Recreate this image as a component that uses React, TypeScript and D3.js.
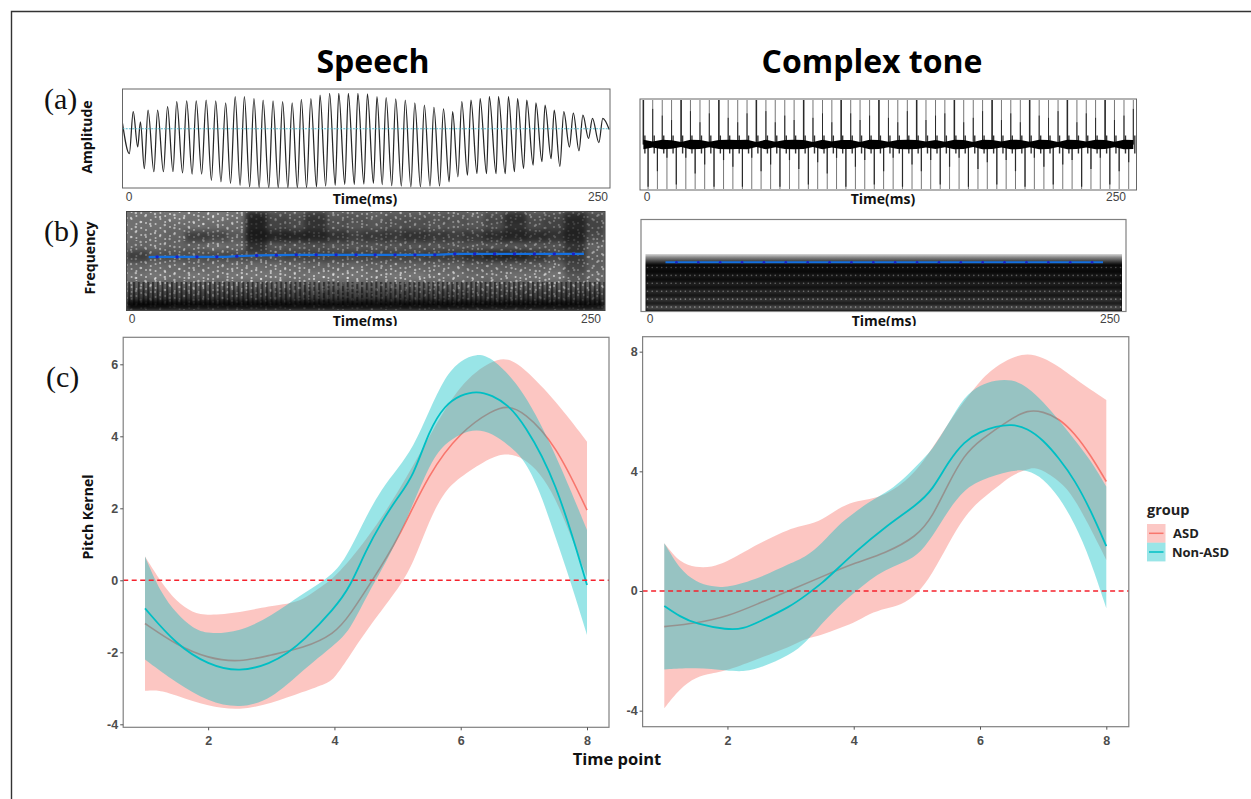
import React, { useEffect, useRef } from 'react';
import * as d3 from 'd3';

type Pt = [number, number];

// ---- pitch kernels, speech panel
const speechAsdUpper: Pt[] = [[1, 0.66], [1.25, -0.04], [1.5, -0.6], [1.75, -0.9], [2, -0.98], [2.5, -0.9], [3, -0.7], [3.25, -0.66], [3.5, -0.55], [3.75, -0.22], [4, 0.05], [4.5, 1.1], [5, 2.4], [5.5, 4], [6, 5.5], [6.5, 6.12], [6.75, 6.18], [7, 5.9], [7.5, 5], [8, 3.85]];
const speechAsdMean: Pt[] = [[1, -1.2], [1.5, -1.8], [2, -2.17], [2.5, -2.28], [3, -2.07], [3.5, -1.89], [4, -1.5], [4.25, -0.95], [4.6, 0], [5, 1.1], [5.5, 3], [6, 4.13], [6.5, 4.73], [6.75, 4.85], [7, 4.68], [7.5, 3.8], [8, 1.95]];
const speechAsdLower: Pt[] = [[1, -3.07], [1.25, -3.05], [1.5, -3.2], [2, -3.5], [2.5, -3.62], [3, -3.42], [3.5, -3.1], [3.9, -2.85], [4, -2.72], [4.25, -2.08], [4.5, -1.4], [5, -0.27], [5.25, 0.47], [5.5, 1.67], [5.75, 2.5], [6, 2.88], [6.5, 3.45], [6.75, 3.53], [7, 3.39], [7.25, 3.0], [7.5, 2.3], [7.75, 1.2], [8, 0.1]];
const speechCtrlUpper: Pt[] = [[1, 0.66], [1.25, -0.36], [1.5, -0.92], [1.75, -1.33], [2, -1.5], [2.5, -1.43], [3, -1], [3.5, -0.36], [4, 0.15], [4.25, 0.85], [4.5, 1.77], [4.75, 2.55], [5, 3.1], [5.25, 3.7], [5.5, 4.7], [5.75, 5.66], [6, 6.12], [6.25, 6.3], [6.5, 6.2], [7, 5.29], [7.5, 3.53], [8, 1.4]];
const speechCtrlMean: Pt[] = [[1, -0.78], [1.5, -1.8], [2, -2.35], [2.5, -2.56], [3, -2.3], [3.25, -2.03], [3.5, -1.7], [4, -0.78], [4.25, -0.18], [4.5, 0.84], [4.75, 1.63], [5, 2.3], [5.25, 2.88], [5.5, 4.17], [5.75, 4.87], [6, 5.15], [6.25, 5.26], [6.5, 5.14], [6.75, 4.87], [7, 4.36], [7.5, 2.83], [8, -0.13]];
const speechCtrlLower: Pt[] = [[1, -2.2], [1.5, -2.85], [2, -3.37], [2.5, -3.56], [3, -3.32], [3.5, -2.49], [4, -1.8], [4.25, -1.38], [4.5, -0.45], [5, 1.03], [5.5, 3.25], [5.75, 3.8], [6, 4.08], [6.25, 4.2], [6.5, 4.08], [6.75, 3.76], [7, 3.39], [7.25, 2.5], [7.5, 1.2], [7.75, -0.08], [8, -1.52]];

// ---- pitch kernels, complex tone panel
const toneAsdUpper: Pt[] = [[1, 1.6], [1.25, 0.93], [1.5, 0.79], [1.75, 0.79], [2, 0.98], [2.5, 1.6], [3, 2.1], [3.25, 2.2], [3.5, 2.37], [3.75, 2.76], [4, 2.99], [4.25, 3.07], [4.5, 3.2], [5, 3.9], [5.5, 5.66], [6, 7.05], [6.25, 7.5], [6.5, 7.8], [6.75, 7.96], [7, 7.8], [7.25, 7.5], [7.5, 7.1], [8, 6.38]];
const toneAsdMean: Pt[] = [[1, -1.19], [1.5, -1.08], [2, -0.86], [2.5, -0.41], [3, 0.03], [3.5, 0.48], [4, 0.93], [4.5, 1.26], [5, 1.82], [5.25, 2.49], [5.5, 3.6], [5.75, 4.55], [6, 5.05], [6.5, 5.77], [6.75, 6.05], [7, 6], [7.25, 5.77], [7.5, 5.27], [7.75, 4.55], [8, 3.66]];
const toneAsdLower: Pt[] = [[1, -3.92], [1.25, -3.25], [1.5, -2.87], [1.75, -2.75], [2, -2.66], [2.5, -2.25], [3, -1.86], [3.25, -1.58], [3.5, -1.47], [3.75, -1.25], [4, -1.08], [4.25, -0.75], [4.5, -0.58], [4.75, -0.47], [5, -0.13], [5.25, 0.59], [5.5, 1.59], [5.75, 2.49], [6, 3.04], [6.25, 3.43], [6.5, 3.88], [6.75, 4.07], [6.9, 4.16], [7.25, 3.7], [7.5, 3.15], [8, 1.04]];
const toneCtrlUpper: Pt[] = [[1, 1.6], [1.25, 0.7], [1.5, 0.31], [1.75, 0.14], [2, 0.11], [2.5, 0.42], [3, 0.93], [3.25, 1.15], [3.5, 1.6], [3.75, 2.2], [4, 2.6], [4.25, 2.99], [4.5, 3.27], [4.75, 3.66], [5, 4.2], [5.25, 4.72], [5.5, 5.6], [5.75, 6.5], [6, 6.89], [6.25, 7.05], [6.5, 7.08], [6.75, 6.83], [7, 6.33], [7.25, 5.72], [7.5, 5.05], [7.75, 4.38], [8, 3.49]];
const toneCtrlMean: Pt[] = [[1, -0.5], [1.25, -0.86], [1.5, -1.1], [2, -1.3], [2.25, -1.27], [2.5, -1.03], [3, -0.52], [3.25, -0.13], [3.5, 0.26], [3.75, 0.76], [4, 1.26], [4.5, 2.15], [5, 2.88], [5.25, 3.38], [5.5, 4.33], [5.75, 5], [6, 5.33], [6.25, 5.5], [6.5, 5.58], [6.75, 5.44], [7, 5.05], [7.25, 4.44], [7.5, 3.71], [7.75, 2.71], [8, 1.5]];
const toneCtrlLower: Pt[] = [[1, -2.62], [1.5, -2.55], [2, -2.66], [2.25, -2.7], [2.5, -2.59], [3, -2.14], [3.25, -1.7], [3.5, -1.08], [3.75, -0.52], [4, -0.08], [4.25, 0.37], [4.5, 0.7], [4.75, 0.93], [5, 1.15], [5.25, 1.82], [5.5, 2.71], [5.75, 3.38], [6, 3.71], [6.5, 4.04], [6.75, 4.05], [7, 3.77], [7.25, 3.15], [7.5, 2.26], [7.75, 1.04], [8, -0.58]];

const timeTicks = [2, 4, 6, 8];
const speechTicks = [-4, -2, 0, 2, 4, 6];
const toneTicks = [-4, 0, 4, 8];
const groups = ['ASD', 'Non-ASD'];

// ---- speech waveform, extremes of each cycle (ms, relative amplitude)
const speechPeakTimes = [0, 5.5, 9.2, 13.1, 18, 23.1, 27.8, 32.9, 37.8, 42.9, 47.8, 52.9, 57.8, 62.5, 67.4, 72.1, 77.2, 82.1, 87, 91.7, 96.6, 101.3, 106.2, 110.9, 115.8, 120.7, 125.6, 130.5, 135.2, 140.1, 145, 149.9, 154.8, 159.7, 164.6, 169.3, 174, 178.7, 183.4, 188.1, 192.8, 197.9, 202.6, 207.3, 212, 216.7, 221.4, 226.3, 231.2, 236.1, 241, 246.3];
const speechPeakAmps = [0.14, 0.44, 0.18, 0.48, 0.48, 0.57, 0.7, 0.72, 0.72, 0.74, 0.72, 0.67, 0.83, 0.83, 0.78, 0.74, 0.72, 0.7, 0.67, 0.76, 0.78, 0.87, 0.91, 0.91, 0.91, 0.91, 0.9, 0.83, 0.8, 0.77, 0.74, 0.67, 0.61, 0.55, 0.51, 0.44, 0.7, 0.74, 0.78, 0.83, 0.83, 0.83, 0.78, 0.74, 0.67, 0.61, 0.48, 0.44, 0.4, 0.35, 0.27, 0.27];
const speechTroughTimes = [3.5, 7.8, 11.2, 16.1, 21, 25.9, 30.8, 35.7, 40.6, 45.6, 50.5, 55.4, 60.3, 65.2, 70.1, 75, 79.9, 84.8, 89.7, 94.4, 99.5, 104.2, 109.1, 114, 118.9, 123.8, 128.7, 133.2, 138.1, 143, 147.9, 152.8, 157.7, 162.6, 167.5, 172, 176.9, 181.8, 186.7, 191.6, 196.3, 201, 205.7, 210.6, 215.1, 219.8, 224.3, 229.2, 234.1, 239, 244.3, 249.6];
const speechTroughAmps = [-0.64, -0.47, -1.03, -1.11, -1.11, -1.11, -1.14, -1.17, -1.17, -1.33, -1.37, -1.41, -1.46, -1.5, -1.52, -1.53, -1.53, -1.53, -1.53, -1.52, -1.5, -1.48, -1.46, -1.44, -1.44, -1.43, -1.41, -1.44, -1.47, -1.48, -1.5, -1.5, -1.48, -1.48, -1.37, -1.24, -1.2, -1.16, -1.16, -1.16, -1.16, -1.11, -1.03, -0.94, -0.85, -0.77, -0.97, -0.47, -0.57, -0.25, -0.36, -0.02];

// ---- complex tone waveform: one up and one down spike per period
const toneSpikeTimes = [1.7, 6.4, 11.2, 15.9, 20.7, 25.4, 30.2, 34.9, 39.7, 44.4, 49.2, 53.9, 58.6, 63.4, 68.1, 72.9, 77.6, 82.4, 87.1, 91.9, 96.6, 101.3, 106.1, 110.8, 115.6, 120.3, 125.1, 129.8, 134.6, 139.3, 144, 148.8, 153.5, 158.3, 163, 167.8, 172.5, 177.3, 182, 186.7, 191.5, 196.2, 201, 205.7, 210.5, 215.2, 220, 224.7, 229.4, 234.2, 238.9, 243.7, 248.4];
const toneUpDark = [1, 0.8, 0.65, 0.55, 1, 0.75, 0.5, 0.7, 1, 0.6, 0.5, 0.7, 1, 0.75, 0.5, 0.65, 0.55, 1, 0.6, 0.7, 0.5, 1, 0.7, 0.55, 0.65, 1, 0.6, 0.5, 0.75, 1, 0.55, 0.65, 0.7, 1, 0.5, 0.6, 0.75, 1, 0.55, 0.7, 0.5, 1, 0.65, 0.6, 0.75, 1, 0.5, 0.7, 0.6, 1, 0.55, 0.65, 0.8];
const toneDownDark = [0.95, 0.6, 0.3, 0.9, 0.3, 0.65, 0.45, 0.95, 0.35, 0.5, 0.95, 0.3, 0.6, 0.45, 0.95, 0.35, 0.55, 0.9, 0.4, 0.65, 0.3, 0.95, 0.5, 0.35, 0.9, 0.6, 0.3, 0.95, 0.45, 0.6, 0.35, 0.9, 0.5, 0.3, 0.95, 0.55, 0.4, 0.9, 0.35, 0.6, 0.95, 0.3, 0.5, 0.9, 0.45, 0.35, 0.95, 0.55, 0.3, 0.9, 0.6, 0.4, 0.8];
const toneBandHalf = [4.8, 3, 4.8, 4.2, 2.6, 4.8, 4.6, 2.8, 4.4, 4.8, 4.6, 4.8, 2.6, 4.8, 2.8, 4.6, 4.8, 4.6, 2.6, 4.8, 3, 4.6, 4.4, 2.6, 4.8, 4.6, 2.8, 4.4, 4.8, 4.6, 3, 4.6, 2.8, 4.8, 4.6, 2.6, 4.8, 4.6, 3, 4.8, 4.6, 2.8, 4.8, 4.4, 2.6, 4.8, 4.6, 3, 4.8, 4.6, 2.8, 4.8, 4.6];

// ---- pitch tracks (ms, % of the frequency range)
const speechPitchTimes = [11.6, 16, 26.4, 36.8, 47.2, 52, 57.6, 68, 78.3, 88.7, 99.1, 109.5, 119.9, 129.9, 140.3, 150.7, 161.1, 171.5, 181.9, 192.3, 202.7, 213.1, 223.5, 233.5, 239];
const speechPitchValues = [54, 54.2, 54.2, 54.2, 54.2, 54.2, 54.9, 55.6, 55.9, 56.2, 56.2, 56.2, 56.2, 56.2, 56.2, 56.2, 56.2, 57.2, 57.2, 57.2, 57.2, 57.2, 57.2, 57.2, 57.2];
const tonePitchTimes = [0, 6, 18, 30, 42, 54, 66, 78, 90, 102, 114, 126, 138, 150, 162, 174, 186, 198, 210, 222, 234, 240];
const tonePitchValues = [53.6, 53.6, 53.6, 53.6, 53.6, 53.6, 53.6, 53.6, 53.6, 53.6, 53.6, 53.6, 53.6, 53.6, 53.6, 53.6, 53.6, 53.6, 53.6, 53.6, 53.6, 53.6];

// ---- speech spectrogram brightness, coarse cells
const speechSpecRows = [
  [0.9, 0.9, 0.95, 0.9, 0.95, 0.9, 0.3, 0.6, 0.65, 0.45, 0.7, 0.7, 0.75, 0.7, 0.7, 0.7, 0.7, 0.75, 0.6, 0.38, 0.65, 0.6, 0.35, 0.6],
  [0.9, 0.9, 0.85, 0.9, 0.85, 0.85, 0.28, 0.55, 0.6, 0.42, 0.65, 0.7, 0.7, 0.65, 0.65, 0.7, 0.7, 0.7, 0.6, 0.4, 0.6, 0.55, 0.32, 0.55],
  [0.85, 0.85, 0.8, 0.5, 0.55, 0.7, 0.22, 0.3, 0.3, 0.3, 0.4, 0.5, 0.45, 0.45, 0.4, 0.45, 0.5, 0.45, 0.35, 0.3, 0.35, 0.4, 0.28, 0.6],
  [0.8, 0.85, 0.8, 0.8, 0.9, 0.85, 0.4, 0.7, 0.7, 0.65, 0.7, 0.7, 0.7, 0.7, 0.7, 0.7, 0.7, 0.7, 0.7, 0.7, 0.7, 0.7, 0.42, 0.8],
  [0.5, 0.65, 0.65, 0.65, 0.6, 0.6, 0.6, 0.6, 0.55, 0.55, 0.55, 0.55, 0.55, 0.55, 0.55, 0.5, 0.48, 0.38, 0.3, 0.3, 0.4, 0.55, 0.45, 0.75],
  [0.8, 0.85, 0.85, 0.8, 0.85, 0.85, 0.85, 0.85, 0.85, 0.8, 0.8, 0.85, 0.8, 0.8, 0.8, 0.8, 0.8, 0.75, 0.75, 0.75, 0.75, 0.8, 0.55, 0.75],
  [0.9, 0.95, 0.9, 0.95, 0.9, 0.95, 0.95, 0.95, 0.9, 0.95, 0.95, 0.95, 0.9, 0.95, 0.95, 0.9, 0.9, 0.85, 0.85, 0.9, 0.9, 0.95, 0.7, 0.85],
  [0.8, 0.82, 0.8, 0.82, 0.8, 0.82, 0.8, 0.82, 0.8, 0.82, 0.8, 0.82, 0.8, 0.82, 0.8, 0.82, 0.8, 0.8, 0.78, 0.8, 0.8, 0.82, 0.75, 0.8],
  [0.55, 0.55, 0.55, 0.55, 0.55, 0.55, 0.55, 0.55, 0.55, 0.55, 0.55, 0.55, 0.55, 0.55, 0.55, 0.55, 0.55, 0.55, 0.55, 0.55, 0.55, 0.55, 0.5, 0.5],
  [0.08, 0.1, 0.12, 0.12, 0.12, 0.12, 0.12, 0.12, 0.12, 0.12, 0.12, 0.12, 0.12, 0.12, 0.12, 0.12, 0.12, 0.12, 0.12, 0.12, 0.12, 0.12, 0.12, 0.14],
];
// dots of two repeating speckle tiles, per harmonic column
const speckleColumnsA = [
  [2, 9, 15, 23, 30, 37], [5, 12, 20, 26, 34], [1, 8, 17, 24, 31, 38], [4, 13, 19, 28, 35],
  [3, 10, 16, 22, 32, 39], [6, 14, 21, 27, 36], [2, 11, 18, 25, 33], [7, 12, 19, 29, 37],
  [0, 9, 16, 24, 31, 38], [5, 13, 22, 28, 35],
];
const speckleColumnsB = [
  [6, 19, 33], [1, 14, 27, 41], [9, 22, 36], [4, 17, 31, 44], [11, 25, 39],
  [7, 20, 34], [2, 15, 29, 43], [12, 24, 38], [5, 18, 32], [10, 23, 40], [3, 16, 30],
];
const toneRowLevels = [0.06, 0.09, 0.12, 0.16, 0.2, 0.27];

const asdColor = '#F8766D';
const ctrlColor = '#00BFC4';
const labelFont = '"Open Sans", "Noto Sans", sans-serif';

const KernelAxes = ({ x, y, xTicks, yTicks }: any) => {
  const xRef = useRef<SVGGElement>(null);
  const yRef = useRef<SVGGElement>(null);
  useEffect(() => {
    const bottom = y.range()[0];
    const left = x.range()[0];
    const gx = d3.select(xRef.current!)
      .attr('transform', `translate(0,${bottom})`)
      .call(d3.axisBottom(x).tickValues(xTicks).tickSize(3).tickPadding(6).tickFormat(d3.format('d')) as any);
    const gy = d3.select(yRef.current!)
      .attr('transform', `translate(${left},0)`)
      .call(d3.axisLeft(y).tickValues(yTicks).tickSize(3).tickPadding(2).tickFormat(d3.format('d')) as any);
    for (const g of [gx, gy]) {
      g.select('.domain').remove();
      g.selectAll('line').attr('stroke', '#555');
      g.selectAll('text')
        .attr('fill', '#4d4d4d')
        .style('font-family', '"Liberation Sans", sans-serif')
        .style('font-weight', 'bold')
        .style('font-size', '12.5px');
    }
    gy.selectAll('text').text((d: any) => String(d));
  }, [x, y, xTicks, yTicks]);
  return (
    <g>
      <g ref={xRef} />
      <g ref={yRef} />
    </g>
  );
};

const KernelPanel = ({ x, y, xTicks, yTicks, asd, ctrl }: any) => {
  const curve = d3.line<Pt>().x(d => x(d[0])).y(d => y(d[1])).curve(d3.curveBasis);
  const band = (upper: Pt[], lower: Pt[]) => {
    const top = curve(upper)!;
    const bot = curve([...lower].reverse())!;
    return `${top}L${bot.slice(1)}Z`;
  };
  const [l, r] = x.range();
  const [b, t] = y.range();
  return (
    <g>
      <path d={band(asd.upper, asd.lower)} fill={asdColor} opacity={0.42} />
      <path d={curve(asd.mean)!} fill="none" stroke={asdColor} strokeWidth={1.6} />
      <path d={band(ctrl.upper, ctrl.lower)} fill={ctrlColor} opacity={0.4} />
      <path d={curve(ctrl.mean)!} fill="none" stroke={ctrlColor} strokeWidth={1.8} />
      <line x1={l} x2={r} y1={y(0)} y2={y(0)} stroke="#f5222d" strokeWidth={1.4} strokeDasharray="5 3.5" />
      <rect x={l} y={t} width={r - l} height={b - t} fill="none" stroke="#808080" strokeWidth={1.2} />
      <KernelAxes x={x} y={y} xTicks={xTicks} yTicks={yTicks} />
    </g>
  );
};

const SpeechWave = () => {
  const x = d3.scaleLinear().domain([0, 250]).range([122.5, 610]);
  const y = d3.scaleLinear().domain([-1.53, 1]).range([188, 90]);
  const points = d3.sort(
    [
      ...speechPeakTimes.map((t, i) => [t, speechPeakAmps[i]] as Pt),
      ...speechTroughTimes.map((t, i) => [t, speechTroughAmps[i]] as Pt),
    ],
    d => d[0],
  );
  const line = d3.line<Pt>().x(d => x(d[0])).y(d => y(d[1])).curve(d3.curveMonotoneX);
  return (
    <g>
      <clipPath id="speechClip"><rect x={122.5} y={89} width={487.5} height={99} /></clipPath>
      <path d={line(points)!} fill="none" stroke="#262626" strokeWidth={1.25} clipPath="url(#speechClip)" />
      <line x1={122.5} x2={610} y1={y(0)} y2={y(0)} stroke="#45b6c9" strokeWidth={0.9} strokeDasharray="2 1.2" />
      <rect x={122.5} y={89} width={487.5} height={99} fill="none" stroke="#666" strokeWidth={1} />
    </g>
  );
};

const ToneWave = () => {
  const x = d3.scaleLinear().domain([0, 250]).range([640, 1136.5]);
  const y = d3.scaleLinear().domain([-1, 1]).range([189, 100]);
  const halfPeriod = 2.37;
  const bandPts = toneSpikeTimes.map((t, i) => [t, toneBandHalf[i]] as Pt);
  const bandArea = d3.area<Pt>()
    .x(d => x(d[0]))
    .y0(d => y(0) - d[1])
    .y1(d => y(0) + d[1])
    .curve(d3.curveLinear);
  return (
    <g>
      {toneSpikeTimes.map((t, i) => (
        <g key={t}>
          <line x1={x(t)} x2={x(t)} y1={y(0)} y2={y(1)} stroke="#777" strokeWidth={1} />
          <line x1={x(t)} x2={x(t)} y1={y(0)} y2={y(toneUpDark[i])} stroke="#2a2a2a" strokeWidth={toneUpDark[i] === 1 ? 1.5 : 1} />
          <line x1={x(t) + 1.5} x2={x(t) + 1.5} y1={y(0) - 9} y2={y(0) + 9} stroke="#333" strokeWidth={1.4} />
          {t + halfPeriod < 250 && (
            <>
              <line x1={x(t + halfPeriod)} x2={x(t + halfPeriod)} y1={y(0)} y2={y(-1)} stroke="#777" strokeWidth={1} />
              <line x1={x(t + halfPeriod)} x2={x(t + halfPeriod)} y1={y(0)} y2={y(-toneDownDark[i])} stroke="#2a2a2a" strokeWidth={1.2} />
            </>
          )}
        </g>
      ))}
      <path d={bandArea(bandPts)!} fill="#000" />
      <rect x={640} y={99} width={496.5} height={91} fill="none" stroke="#666" strokeWidth={1} />
    </g>
  );
};

const SpeechSpectrogram = () => {
  const left = 126.5;
  const right = 605;
  const top = 211.5;
  const bottom = 310.5;
  const cols = d3.scaleBand<number>().domain(d3.range(speechSpecRows[0].length)).range([left, right]);
  const rows = d3.scaleBand<number>().domain(d3.range(speechSpecRows.length)).range([top, bottom]);
  const t = d3.scaleLinear().domain([0, 250]).range([left, right]);
  const f = d3.scaleLinear().domain([0, 100]).range([bottom, top]);
  const pts = speechPitchTimes.map((d, i) => [d, speechPitchValues[i]] as Pt);
  const track = d3.line<Pt>().x(d => t(d[0])).y(d => f(d[1]));
  return (
    <g>
      <defs>
        <pattern id="speckleA" width={48} height={40} patternUnits="userSpaceOnUse">
          {speckleColumnsA.map((c, i) => c.map(v => (
            <circle key={`${i}-${v}`} cx={i * 4.8 + 2} cy={v} r={1.05} fill="#fff" />
          )))}
        </pattern>
        <pattern id="speckleB" width={53} height={46} patternUnits="userSpaceOnUse">
          {speckleColumnsB.map((c, i) => c.map(v => (
            <circle key={`${i}-${v}`} cx={i * 4.8 + 1} cy={v} r={1.2} fill="#fff" />
          )))}
        </pattern>
        <pattern id="stripes" width={4.75} height={10} patternUnits="userSpaceOnUse">
          <rect x={0} y={0} width={2.2} height={10} fill="#000" />
        </pattern>
        <filter id="blurCells" x="-5%" y="-5%" width="110%" height="110%">
          <feGaussianBlur stdDeviation="2.6" />
        </filter>
        <filter id="blurDots"><feGaussianBlur stdDeviation="0.35" /></filter>
        <clipPath id="specClip"><rect x={left} y={top} width={right - left} height={bottom - top} /></clipPath>
      </defs>
      <g clipPath="url(#specClip)">
        <rect x={left} y={top} width={right - left} height={bottom - top} fill="#7d7d7d" />
        <rect x={left} y={top} width={right - left} height={bottom - top} fill="url(#speckleA)" filter="url(#blurDots)" opacity={0.7} />
        <rect x={left} y={top} width={right - left} height={bottom - top} fill="url(#speckleB)" filter="url(#blurDots)" opacity={0.65} />
        <rect x={left} y={282} width={right - left} height={23} fill="url(#stripes)" opacity={0.5} filter="url(#blurDots)" />
        <g filter="url(#blurCells)">
          {speechSpecRows.map((row, r) => row.map((b, c) => (
            <rect key={`${r}-${c}`} x={cols(c)! - 0.5} y={rows(r)! - 0.5} width={cols.bandwidth() + 1} height={rows.bandwidth() + 1} fill="#000" opacity={1 - b} />
          )))}
        </g>
      </g>
      <path d={track(pts)!} fill="none" stroke="#1470e0" strokeWidth={2.2} />
      {pts.slice(1, -1).filter(d => d[0] !== 52).map(d => (
        <circle key={d[0]} cx={t(d[0])} cy={f(d[1])} r={1.7} fill="#1a22c9" />
      ))}
      <rect x={left} y={top} width={right - left} height={bottom - top} fill="none" stroke="#444" strokeWidth={1} />
    </g>
  );
};

const ToneSpectrogram = () => {
  const left = 645.5;
  const right = 1122;
  const top = 254;
  const bottom = 311;
  const rows = d3.scaleBand<number>().domain(d3.range(toneRowLevels.length)).range([263.5, 311]);
  const columns = d3.range(left + 2, right, 4.73);
  const t = d3.scaleLinear().domain([0, 250]).range([665.5, 1103 + (1103 - 665.5) * 0.0417]);
  const f = d3.scaleLinear().domain([0, 100]).range([311.7, 219.5]);
  const pts = tonePitchTimes.map((d, i) => [d, tonePitchValues[i]] as Pt);
  const track = d3.line<Pt>().x(d => t(d[0])).y(d => f(d[1]));
  return (
    <g>
      <defs>
        <linearGradient id="toneTop" x1="0" x2="0" y1="0" y2="1">
          <stop offset="0" stopColor="#d8d8d8" />
          <stop offset="0.3" stopColor="#8a8a8a" />
          <stop offset="1" stopColor="#000" />
        </linearGradient>
        <filter id="blurRows" x="-2%" y="-30%" width="104%" height="160%"><feGaussianBlur stdDeviation="1.6" /></filter>
        <filter id="blurTone"><feGaussianBlur stdDeviation="0.5" /></filter>
      </defs>
      <rect x={641} y={219.5} width={485} height={92} fill="#fff" stroke="#808080" strokeWidth={1.2} />
      <rect x={left} y={top} width={right - left} height={11} fill="url(#toneTop)" />
      <rect x={left} y={top + 11} width={right - left} height={bottom - top - 11} fill="#000" />
      <g filter="url(#blurRows)">
        {toneRowLevels.map((lv, i) => (
          <rect key={i} x={left} y={rows(i)! + 1.5} width={right - left} height={rows.bandwidth() - 2} fill="#fff" opacity={lv} />
        ))}
      </g>
      <g filter="url(#blurTone)">
        {toneRowLevels.map((lv, i) => columns.map(c => (
          <circle key={`${i}-${c}`} cx={c} cy={rows(i)! + rows.bandwidth() / 2} r={0.8} fill="#fff" opacity={lv + 0.2} />
        )))}
      </g>
      <path d={track(pts)!} fill="none" stroke="#1470e0" strokeWidth={1.9} />
      {pts.slice(1, -1).map(d => (
        <circle key={d[0]} cx={t(d[0])} cy={f(d[1])} r={1.3} fill="#1a22c9" />
      ))}
    </g>
  );
};

export default function App() {
  const xSpeech = d3.scaleLinear().domain([1, 8]).range([145, 587]);
  const xTone = d3.scaleLinear().domain([1, 8]).range([664.3, 1106.3]);
  // frame limits come out of the domain padding
  const xSpeechAxis = d3.scaleLinear().domain([xSpeech.invert(123.2), xSpeech.invert(609)]).range([123.2, 609]);
  const xToneAxis = d3.scaleLinear().domain([xTone.invert(642.6), xTone.invert(1128.8)]).range([642.6, 1128.8]);
  const ySpeech = d3.scaleLinear().domain([-4.083, 6.75]).range([727.3, 337.3]);
  const yTone = d3.scaleLinear().domain([-4.536, 8.5]).range([726.7, 336.7]);

  const smallText = { fontFamily: '"Liberation Sans", sans-serif', fontSize: 12, fill: '#444' };
  const axisTitle = { fontFamily: labelFont, fontSize: 14, fontWeight: 700, fill: '#111' };

  return (
    <svg width={1251} height={799} style={{ position: 'absolute', left: 0, top: 0, background: '#fff' }}>
      <path d="M1251,11.5H11.5V799" fill="none" stroke="#333" strokeWidth={1.4} />

      <text x={373} y={73} textAnchor="middle" fontFamily={labelFont} fontSize={32} fontWeight={700} fill="#000">Speech</text>
      <text x={872} y={73} textAnchor="middle" fontFamily={labelFont} fontSize={32} fontWeight={700} fill="#000">Complex tone</text>

      <text x={44} y={109} fontFamily='"Liberation Serif", serif' fontSize={30} fill="#111">(a)</text>
      <text x={44} y={241} fontFamily='"Liberation Serif", serif' fontSize={30} fill="#111">(b)</text>
      <text x={46} y={387} fontFamily='"Liberation Serif", serif' fontSize={30} fill="#111">(c)</text>

      <SpeechWave />
      <ToneWave />
      <SpeechSpectrogram />
      <ToneSpectrogram />

      <text transform="translate(92,137) rotate(-90)" textAnchor="middle" {...axisTitle}>Amplitude</text>
      <text transform="translate(95,258) rotate(-90)" textAnchor="middle" {...axisTitle}>Frequency</text>

      <text x={129} y={201} textAnchor="middle" {...smallText}>0</text>
      <text x={598} y={201} textAnchor="middle" {...smallText}>250</text>
      <text x={365} y={204} textAnchor="middle" {...axisTitle}>Time(ms)</text>
      <text x={647} y={201} textAnchor="middle" {...smallText}>0</text>
      <text x={1116} y={201} textAnchor="middle" {...smallText}>250</text>
      <text x={883} y={204} textAnchor="middle" {...axisTitle}>Time(ms)</text>

      <text x={132} y={323} textAnchor="middle" {...smallText}>0</text>
      <text x={591} y={323} textAnchor="middle" {...smallText}>250</text>
      <text x={365} y={326} textAnchor="middle" {...axisTitle}>Time(ms)</text>
      <text x={650} y={323} textAnchor="middle" {...smallText}>0</text>
      <text x={1110} y={323} textAnchor="middle" {...smallText}>250</text>
      <text x={884} y={326} textAnchor="middle" {...axisTitle}>Time(ms)</text>
      <rect x={120} y={326} width={1020} height={6} fill="#fff" />

      <KernelPanel
        x={xSpeechAxis} y={ySpeech} xTicks={timeTicks} yTicks={speechTicks}
        asd={{ upper: speechAsdUpper, mean: speechAsdMean, lower: speechAsdLower }}
        ctrl={{ upper: speechCtrlUpper, mean: speechCtrlMean, lower: speechCtrlLower }}
      />
      <KernelPanel
        x={xToneAxis} y={yTone} xTicks={timeTicks} yTicks={toneTicks}
        asd={{ upper: toneAsdUpper, mean: toneAsdMean, lower: toneAsdLower }}
        ctrl={{ upper: toneCtrlUpper, mean: toneCtrlMean, lower: toneCtrlLower }}
      />

      <text transform="translate(93,517) rotate(-90)" textAnchor="middle" {...axisTitle}>Pitch Kernel</text>
      <text x={617} y={765} textAnchor="middle" fontFamily={labelFont} fontSize={16.5} fontWeight={700} fill="#111">Time point</text>

      <text x={1147} y={515} fontFamily={labelFont} fontSize={14.5} fontWeight={700} fill="#222">group</text>
      {groups.map((g, i) => {
        const color = i === 0 ? asdColor : ctrlColor;
        const ky = 524 + i * 18.7;
        return (
          <g key={g}>
            <rect x={1147} y={ky} width={18.5} height={18.7} fill={color} opacity={0.4} />
            <line x1={1149} x2={1163.5} y1={ky + 9.3} y2={ky + 9.3} stroke={color} strokeWidth={1.5} />
            <text x={i === 0 ? 1173 : 1172} y={ky + 14} fontFamily={labelFont} fontSize={13} fontWeight={700} fill="#222">{g}</text>
          </g>
        );
      })}
    </svg>
  );
}
